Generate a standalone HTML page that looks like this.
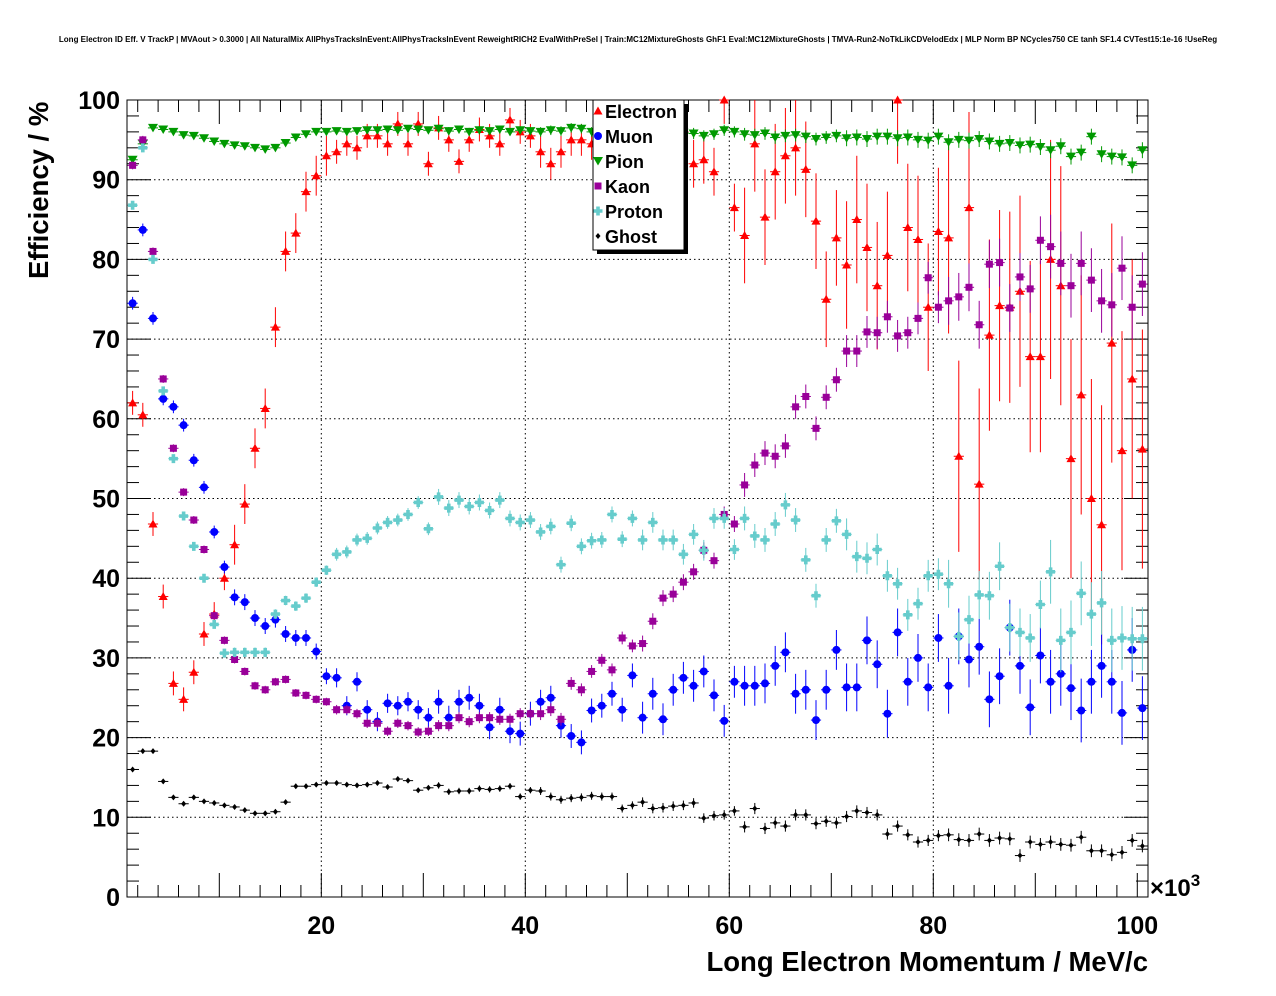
<!DOCTYPE html>
<html><head><meta charset="utf-8"><style>
body{margin:0;background:#fff;}
svg{display:block;font-family:"Liberation Sans",Arial,sans-serif;}
</style></head><body>
<svg id="chart" width="1276" height="996" viewBox="0 0 1276 996" xmlns="http://www.w3.org/2000/svg">
<rect width="1276" height="996" fill="#fff"/>
<text x="638" y="42" font-size="8" font-weight="bold" text-anchor="middle">Long Electron ID Eff. V TrackP | MVAout &gt; 0.3000 | All NaturalMix AllPhysTracksInEvent:AllPhysTracksInEvent ReweightRICH2 EvalWithPreSel | Train:MC12MixtureGhosts GhF1 Eval:MC12MixtureGhosts | TMVA-Run2-NoTkLikCDVelodEdx | MLP Norm BP NCycles750 CE tanh SF1.4 CVTest15:1e-16 !UseReg</text>
<g id="grid"></g>
<g id="axes"></g>
<g id="marks"></g>
<text transform="translate(48,279) rotate(-90)" font-size="27.5" font-weight="bold">Efficiency / %</text>
<text x="1148" y="971" font-size="27.5" font-weight="bold" text-anchor="end">Long Electron Momentum / MeV/c</text>
<text x="1150" y="896" font-size="24" font-weight="bold">×10<tspan dy="-10" font-size="17">3</tspan></text>
<g id="legend"></g>
</svg>
<script>
const yTicks=[0,10,20,30,40,50,60,70,80,90,100];
const xTicks=[20,40,60,80,100];
const electron=[62,60.5,46.8,37.7,26.8,24.8,28.2,33,35.5,40,44.2,49.3,56.3,61.3,71.5,81,83.3,88.5,90.5,93,93.5,94.5,94,95.5,95.5,94.5,97,94.5,97,92,96.5,95,92.3,95,96.3,95.5,94.5,97.5,96,95.5,93.5,92,93.5,95,95,94.5,93.5,95,96,95,93,93.5,94.5,95,96,92,92.5,91,100,86.5,83,94.5,85.3,91,93,94,91.3,84.8,75,82.7,79.3,85,81.5,76.7,80.5,100,84,82.5,74,83.5,82.7,55.3,86.5,51.8,70.5,74.2,74,76,67.8,67.8,80,76.7,55,63,50,46.7,69.5,56,65,56.2];
const muon=[74.5,83.7,72.6,62.5,61.5,59.2,54.8,51.4,45.8,41.4,37.6,37,35,34,34.8,33,32.5,32.5,30.8,27.7,27.5,24,27,23.5,22,24.3,24,24.5,23.5,22.5,24.5,22.5,24.5,25,24,21.3,23.5,20.8,20.5,23,24.5,25,21.5,20.2,19.4,23.4,24,25.5,23.5,27.8,22.5,25.5,22.3,26,27.5,26.5,28.3,25.3,22.1,27,26.5,26.5,26.8,29,30.7,25.5,26,22.2,26,31,26.3,26.3,32.2,29.2,23,33.2,27,30,26.3,32.5,26.5,32.7,29.8,31.4,24.8,27.7,33.8,29,23.8,30.3,27,28,26.2,23.4,27,29,27,23.1,31,23.7];
const pion=[92.5,94.5,96.5,96.3,96,95.6,95.5,95.2,94.8,94.5,94.3,94.2,94,93.8,94,94.6,95.3,95.7,96,96,96.1,96,96.1,96.2,96.2,96.3,96.2,96.4,96.3,96.2,96.4,96.1,96.3,96,96.2,96.1,96.3,96,96.2,96.1,96,96.2,96.1,96.5,96.4,96,96.2,96,95.8,96,95.9,95.7,96,95.6,95.9,95.8,95.5,95.7,96.2,96,95.7,95.6,95.8,95.3,95.5,95.6,95.4,95.1,95.3,95.5,95.2,95.3,95.1,95.4,95.4,95.2,95.3,95,94.9,95.4,94.7,95,94.9,95.1,94.8,94.5,94.6,94.3,94.4,94.1,93.7,94.2,92.9,93.4,95.4,93.2,92.9,92.8,91.8,93.7,92.6];
const kaon=[91.8,95,81,65,56.3,50.8,47.3,43.6,35.3,32.2,29.8,28.3,26.5,26,27,27.3,25.6,25.3,24.8,24.5,23.5,23.5,23,21.8,21.8,20.8,21.8,21.5,20.7,20.8,21.5,21.5,22.5,22,22.5,22.5,22.3,22.3,23,23,23,23.5,22.3,26.8,26,28.3,29.7,28.5,32.5,31.5,31.8,34.6,37.5,38,39.5,40.8,43.5,42.2,48,46.8,51.7,54.2,55.7,55.3,56.6,61.5,62.8,58.8,62.7,64.9,68.5,68.5,70.9,70.8,72.8,70.4,70.8,72.6,77.7,74,74.8,75.3,76.5,71.8,79.4,79.6,73.9,77.8,76.3,82.4,81.6,79.5,76.7,79.5,77.4,74.8,74.3,78.9,74,76.9,74.9];
const proton=[86.8,94,80,63.5,55,47.8,44,40,34.2,30.6,30.7,30.7,30.7,30.7,35.5,37.2,36.5,37.5,39.5,41,43,43.3,44.8,45,46.3,47,47.3,48,49.5,46.2,50.2,48.8,49.8,49,49.5,48.5,49.8,47.5,47,47.3,45.8,46.5,41.7,46.9,44,44.7,44.8,48,44.9,47.5,44.8,47,44.8,44.8,43,45.5,43.5,47.5,47.5,43.6,47.5,45.3,44.8,46.8,49.2,47.3,42.3,37.8,44.8,47.2,45.5,42.7,42.5,43.6,40.3,39.3,35.4,36.8,40.3,40.5,39.3,32.7,34.8,37.9,37.8,41.5,33.8,33.2,32.5,36.7,40.8,32.2,33.2,38.1,35.5,36.9,32.2,32.5,32.4,32.4];
const ghost=[16,18.3,18.3,14.5,12.5,11.7,12.5,12,11.8,11.5,11.3,10.9,10.5,10.5,10.7,11.9,13.9,13.9,14.1,14.3,14.3,14.1,14,14.1,14.3,13.8,14.8,14.6,13.4,13.7,14,13.2,13.3,13.3,13.6,13.5,13.6,13.9,12.6,13.4,13.3,12.6,12.2,12.4,12.5,12.7,12.6,12.6,11.1,11.5,11.9,11.1,11.2,11.4,11.5,11.8,9.9,10.2,10.3,10.8,8.8,11.1,8.6,9.3,8.9,10.3,10.3,9.2,9.5,9.3,10.1,10.8,10.6,10.3,7.9,8.9,7.8,6.9,7.1,7.7,7.8,7.2,7.1,7.9,7.1,7.4,7.3,5.2,6.9,6.6,6.9,6.6,6.5,7.5,5.8,5.8,5.3,5.6,7.1,6.4];
const errElectron=[1.5,2.5,1.5,1.5,2,3,6,8,12,15];
const errMuon=[0.8,1,1.2,1.5,1.5,2,2.5,3,3.5,4];
const errPion=[0.3,0.3,0.4,0.5,0.6,0.7,0.8,1,1,1];
const errKaon=[0.5,0.5,0.6,0.7,0.8,1,1.5,2,3,4];
const errProton=[0.5,0.6,0.8,1,1,1.3,1.5,2,3,4];
const errGhost=[0.3,0.3,0.3,0.4,0.5,0.6,0.7,0.7,0.8,0.8];
const seriesNames=["Electron","Muon","Pion","Kaon","Proton","Ghost"];

const NS="http://www.w3.org/2000/svg";
const L=127,R=1148,T=100,B=897;
const X0=0.95,X1=101.05;
function xs(v){return L+(v-X0)/(X1-X0)*(R-L);}
function ys(v){return B-(v/100)*(B-T);}
function mk(tag,attrs,parent){const e=document.createElementNS(NS,tag);for(const k in attrs)e.setAttribute(k,attrs[k]);parent.appendChild(e);return e;}
const grid=document.getElementById('grid'),axes=document.getElementById('axes'),marks=document.getElementById('marks'),legend=document.getElementById('legend');

yTicks.forEach(t=>{if(t>0&&t<100){const l=mk('line',{x1:L,x2:R,y1:ys(t),y2:ys(t),stroke:'#000','stroke-width':1,'stroke-dasharray':'1.5,3'},grid);

}});
xTicks.forEach(t=>{if(t<100){const l=mk('line',{x1:xs(t),x2:xs(t),y1:T,y2:B,stroke:'#000','stroke-width':1,'stroke-dasharray':'1.5,3'},grid);

}});
const fr=mk('rect',{x:L,y:T,width:R-L,height:B-T,fill:'none',stroke:'#000','stroke-width':1},axes);


for(let v=0;v<=100;v+=2){const maj=v%10===0,len=maj?24:12;
mk('line',{x1:L,x2:L+len,y1:ys(v),y2:ys(v),stroke:'#000'},axes);
mk('line',{x1:R,x2:R-len,y1:ys(v),y2:ys(v),stroke:'#000'},axes);}
for(let v=2;v<=100;v+=2){const maj=v%10===0,len=maj?24:12;
mk('line',{x1:xs(v),x2:xs(v),y1:B,y2:B-len,stroke:'#000'},axes);
mk('line',{x1:xs(v),x2:xs(v),y1:T,y2:T+len,stroke:'#000'},axes);}
yTicks.forEach(t=>{const tx=mk('text',{x:120,y:ys(t)+9,'font-size':25,'font-weight':'bold','text-anchor':'end'},axes);tx.textContent=t;

});
xTicks.forEach(t=>{const tx=mk('text',{x:xs(t),y:934,'font-size':25,'font-weight':'bold','text-anchor':'middle'},axes);tx.textContent=t;

});

function marker(shape,color,cx,cy,p){
 if(shape==='tu')mk('path',{d:`M${cx},${cy-4.5}L${cx+4.5},${cy+3.5}L${cx-4.5},${cy+3.5}Z`,fill:color},p);
 else if(shape==='td')mk('path',{d:`M${cx},${cy+4.5}L${cx+5},${cy-4}L${cx-5},${cy-4}Z`,fill:color},p);
 else if(shape==='c')mk('circle',{cx:cx,cy:cy,r:4,fill:color},p);
 else if(shape==='s')mk('rect',{x:cx-3.5,y:cy-3.5,width:7,height:7,fill:color},p);
 else if(shape==='p')mk('path',{d:`M${cx-1.8},${cy-4.5}h3.6v2.7h2.7v3.6h-2.7v2.7h-3.6v-2.7h-2.7v-3.6h2.7Z`,fill:color},p);
 else if(shape==='d')mk('path',{d:`M${cx},${cy-3}L${cx+2.5},${cy}L${cx},${cy+3}L${cx-2.5},${cy}Z`,fill:color},p);
}
function drawSeries(name,vals,errs,color,shape){
 const g=mk('g',{},marks);
 
 
 vals.forEach((v,i)=>{const xc=1.5+i;if(xc>101)return;const cx=xs(xc),cy=ys(v);const e=errs[Math.min(9,Math.floor(i/10))];
  const y1=Math.max(T,ys(v+e)),y2=Math.min(B,ys(v-e));
  if(cy<T-1||cy>B+1)return;
  mk('line',{x1:xs(xc-0.5),x2:xs(xc+0.5),y1:cy,y2:cy,stroke:color,'stroke-width':1},g);
  mk('line',{x1:cx,x2:cx,y1:y1,y2:y2,stroke:color,'stroke-width':1},g);
  marker(shape,color,cx,cy,g);});
}
drawSeries('Electron',electron,errElectron,'#ff0000','tu');
drawSeries('Muon',muon,errMuon,'#0000ff','c');
drawSeries('Pion',pion,errPion,'#009900','td');
drawSeries('Kaon',kaon,errKaon,'#990099','s');
drawSeries('Proton',proton,errProton,'#66cccc','p');
drawSeries('Ghost',ghost,errGhost,'#000000','d');

const colors=['#ff0000','#0000ff','#009900','#990099','#66cccc','#000000'],shapes=['tu','c','td','s','p','d'];
mk('rect',{x:597,y:104,width:91,height:150,fill:'#000'},legend);
const lb=mk('rect',{x:593,y:100,width:91,height:150,fill:'#fff',stroke:'#000'},legend);


seriesNames.forEach((n,i)=>{const yy=111+i*25;const g=mk('g',{},legend);
 
 
 marker(shapes[i],colors[i],598,yy,g);
 const t=mk('text',{x:605,y:yy+7,'font-size':18,'font-weight':'bold'},g);t.textContent=n;});
</script>
</body></html>
